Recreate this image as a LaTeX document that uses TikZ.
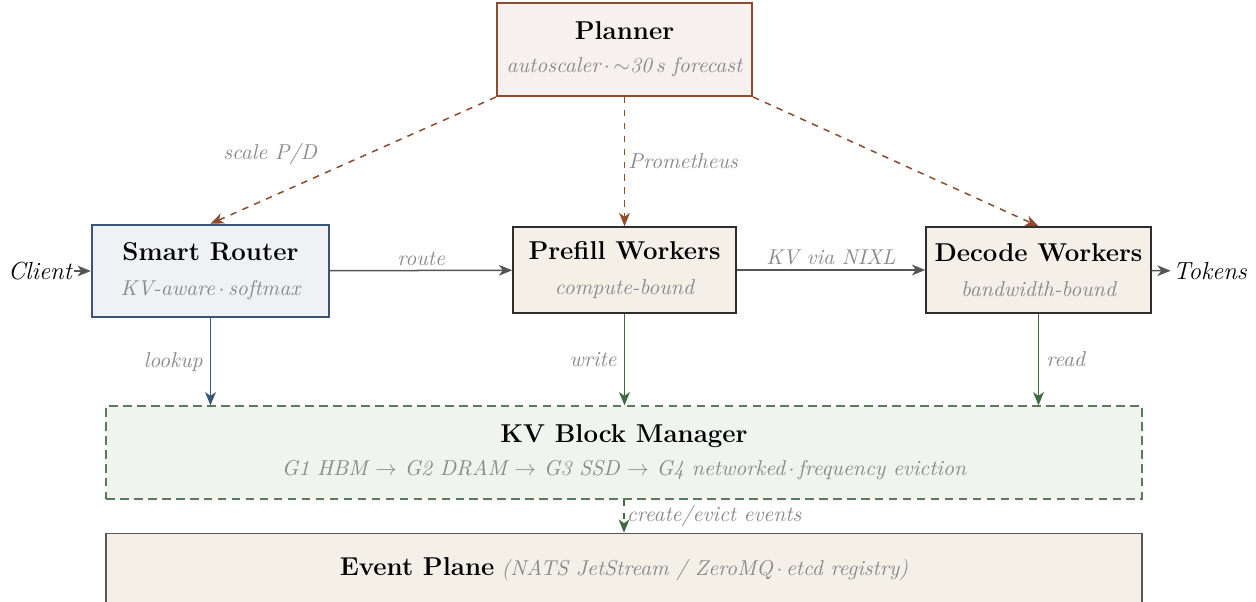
\documentclass[tikz,border=0pt]{standalone}
\usetikzlibrary{arrows.meta}
\definecolor{plbrown}{HTML}{8E4B2E}
\definecolor{plfill}{HTML}{F6F1EF}
\definecolor{rtblue}{HTML}{3A5578}
\definecolor{rtfill}{HTML}{EFF1F5}
\definecolor{wkfill}{HTML}{F4F0E8}
\definecolor{wkborder}{HTML}{2E2E2E}
\definecolor{kvgreen}{HTML}{5B7B5B}
\definecolor{kvfill}{HTML}{F1F3EF}
\definecolor{edgegreen}{HTML}{3F6A3F}
\definecolor{edgegray}{HTML}{555555}
\definecolor{lblgray}{HTML}{8A8A8A}
\newcommand{\boxtitle}[1]{{\large\bfseries #1}}
\newcommand{\boxsub}[1]{{\color{lblgray}\itshape #1}}
\begin{document}
\begin{tikzpicture}[x=0.465pt,y=-0.465pt,
  >={Stealth[length=6.2pt,width=5pt,inset=1.8pt]},
  basebox/.style={rectangle, inner sep=0pt, align=center},
  planbox/.style={basebox, draw=plbrown, fill=plfill, line width=1pt},
  routbox/.style={basebox, draw=rtblue, fill=rtfill, line width=1.1pt},
  workbox/.style={basebox, draw=wkborder, fill=wkfill, line width=0.7pt},
  kvbox/.style={basebox, draw=kvgreen, fill=kvfill, line width=0.6pt, dash pattern=on 4pt off 2.5pt},
  evbox/.style={basebox, draw=wkborder!80, fill=wkfill, line width=0.7pt},
  lbl/.style={font=\itshape, text=lblgray},
  endtext/.style={font=\fontsize{11.5}{14}\selectfont\itshape, text=black, inner sep=1pt},
  grayedge/.style={draw=edgegray, line width=0.7pt, ->},
  planedge/.style={draw=plbrown, line width=0.7pt, dashed, ->},
  blueedge/.style={draw=rtblue, line width=0.7pt, ->},
  greenedge/.style={draw=edgegreen, line width=0.7pt, ->},
]
\useasboundingbox (0,0) rectangle (1256,602);

\node[planbox, minimum width=118.6pt, minimum height=43.2pt] (planner) at (624.5,49.5)
  {\boxtitle{Planner}\\[3.5pt]\boxsub{autoscaler\,$\cdot$\,$\sim$30\,s forecast}};
\node[routbox, minimum width=110.2pt, minimum height=42.8pt] (router) at (210.5,271)
  {\boxtitle{Smart Router}\\[4.5pt]\boxsub{KV-aware\,$\cdot$\,softmax}};
\node[workbox, minimum width=103.7pt, minimum height=40pt] (prefill) at (624.5,270)
  {\boxtitle{Prefill Workers}\\[4.5pt]\boxsub{compute-bound}};
\node[workbox, minimum width=104.6pt, minimum height=40pt] (decode) at (1038.5,270)
  {\boxtitle{Decode Workers}\\[4.5pt]\boxsub{bandwidth-bound}};
\node[kvbox, minimum width=481.7pt, minimum height=43.2pt] (kv) at (624,452.5)
  {\boxtitle{KV Block Manager}\\[3.5pt]\boxsub{G1 HBM $\rightarrow$ G2 DRAM $\rightarrow$ G3 SSD $\rightarrow$ G4 networked\,$\cdot$\,frequency eviction}};
\node[evbox, minimum width=481.7pt, minimum height=33.5pt] (event) at (624,569.5)
  {\boxtitle{Event Plane} \boxsub{(NATS JetStream / ZeroMQ\,$\cdot$\,etcd registry)}};

\node[endtext] (client) at (40,271) {Client};
\node[endtext] (tokens) at (1210,271) {Tokens};

\draw[grayedge] (client) -- (router);
\draw[grayedge] (router) -- node[above, lbl, inner sep=2pt] {route} (prefill);
\draw[grayedge] (prefill) -- node[above, lbl, inner sep=2pt] {KV via NIXL} (decode);
\draw[grayedge] (decode) -- (tokens);

\draw[planedge] (planner.south west) -- node[pos=0.6, above left, lbl] {scale P/D} (router.north);
\draw[planedge] (planner) -- node[right, lbl, inner sep=1.5pt] {Prometheus} (prefill);
\draw[planedge] (planner.south east) -- (decode.north);

\draw[blueedge] (router.south) -- node[left, lbl] {lookup} (router.south |- kv.north);
\draw[greenedge] (prefill.south) -- node[left, lbl] {write} (prefill.south |- kv.north);
\draw[greenedge] (decode.south) -- node[right, lbl] {read} (decode.south |- kv.north);
\draw[greenedge, dashed] (kv) -- node[right, lbl, inner sep=1pt] {create/evict events} (event);
\end{tikzpicture}
\end{document}
